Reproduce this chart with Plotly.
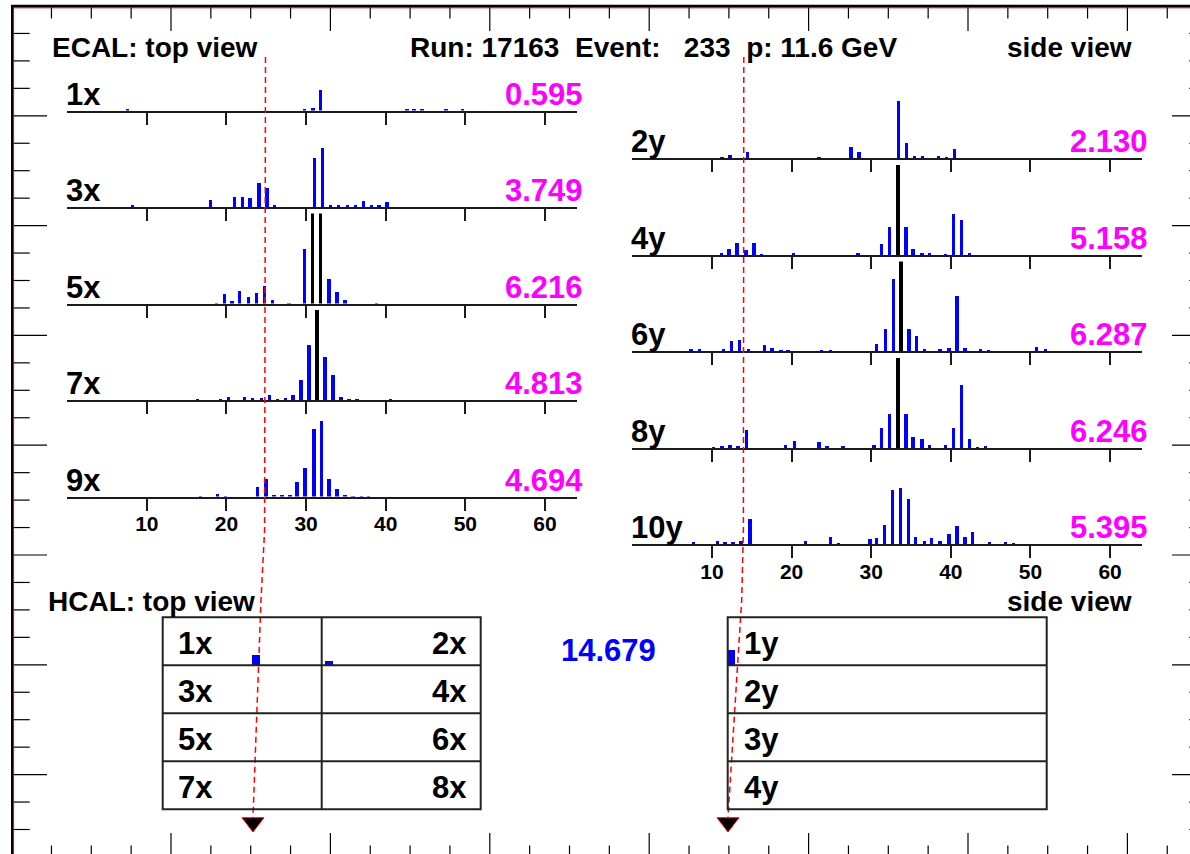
import plotly.graph_objects as go

W, H = 1190, 854
FONT = "Liberation Sans"

# ---------------- data ----------------
run_number, event_number, momentum_gev = 17163, 233, 11.6

ecal_x_labels = ["1x", "3x", "5x", "7x", "9x"]
ecal_y_labels = ["2y", "4y", "6y", "8y", "10y"]
ecal_x_energy = [0.595, 3.749, 6.216, 4.813, 4.694]
ecal_y_energy = [2.130, 5.158, 6.287, 6.246, 5.395]

ch_1x = [7.6, 29.8, 30.9, 31.8, 42.7, 43.6, 44.6, 47.6, 49.7]
e_1x = [0.015, 0.023, 0.038, 0.235, 0.012, 0.012, 0.012, 0.012, 0.015]
ch_3x = [8.2, 18.0, 21.0, 22.0, 23.0, 24.1, 25.1, 26.1, 31.1, 32.1, 33.1, 34.1, 35.2, 36.2, 37.2, 38.2, 39.2, 40.2]
e_3x = [0.023, 0.076, 0.106, 0.106, 0.095, 0.265, 0.208, 0.023, 0.542, 0.652, 0.019, 0.019, 0.019, 0.023, 0.064, 0.015, 0.015, 0.061]
ch_5x = [18.8, 19.8, 20.7, 21.7, 22.8, 23.8, 24.8, 25.8, 27.9, 29.8, 30.8, 31.8, 32.9, 33.9, 34.9, 38.9]
e_5x = [0.011, 0.106, 0.038, 0.144, 0.083, 0.121, 0.197, 0.045, 0.011, 0.606, 1.3, 1.3, 0.277, 0.133, 0.045, 0.008]
ch_7x = [16.4, 19.3, 20.3, 22.3, 23.3, 24.4, 25.4, 26.4, 27.4, 28.4, 29.4, 30.4, 31.4, 32.4, 33.4, 34.4, 35.4, 36.4, 40.6]
e_7x = [0.008, 0.011, 0.038, 0.038, 0.019, 0.027, 0.053, 0.008, 0.019, 0.061, 0.227, 0.606, 1.3, 0.48, 0.273, 0.038, 0.006, 0.006, 0.006]
ch_9x = [16.8, 18.9, 19.9, 23.9, 25.0, 26.0, 27.0, 28.0, 28.9, 29.9, 31.0, 32.0, 32.9, 33.9, 34.9, 35.9, 37.0, 37.9]
e_9x = [0.011, 0.030, 0.006, 0.114, 0.197, 0.019, 0.023, 0.023, 0.163, 0.322, 0.754, 0.848, 0.2, 0.087, 0.019, 0.008, 0.011, 0.008]

ch_2y = [11.3, 12.3, 14.5, 23.5, 27.5, 28.5, 33.5, 34.5, 35.5, 36.5, 38.5, 39.5, 40.5]
e_2y = [0.008, 0.030, 0.068, 0.006, 0.125, 0.068, 0.629, 0.163, 0.019, 0.015, 0.019, 0.008, 0.102]
ch_4y = [11.2, 12.2, 13.2, 14.3, 15.3, 16.3, 20.3, 28.4, 31.3, 32.3, 33.4, 34.4, 35.3, 36.4, 37.4, 39.4, 40.4, 41.4, 42.4]
e_4y = [0.015, 0.068, 0.133, 0.053, 0.133, 0.008, 0.015, 0.015, 0.121, 0.31, 1.3, 0.31, 0.068, 0.015, 0.015, 0.011, 0.455, 0.386, 0.015]
ch_6y = [7.4, 8.5, 11.5, 12.5, 13.5, 14.6, 16.6, 17.6, 18.7, 19.6, 23.8, 24.9, 30.7, 31.8, 32.8, 33.8, 34.8, 35.7, 36.7, 38.7, 39.8, 40.8, 41.8, 43.8, 44.8, 50.8, 51.9]
e_6y = [0.015, 0.023, 0.019, 0.106, 0.117, 0.023, 0.068, 0.038, 0.008, 0.008, 0.006, 0.006, 0.083, 0.239, 0.795, 1.3, 0.25, 0.17, 0.015, 0.019, 0.03, 0.606, 0.03, 0.019, 0.008, 0.049, 0.023]
ch_8y = [10.2, 11.3, 12.3, 13.3, 14.4, 19.3, 20.4, 23.5, 24.5, 26.5, 30.4, 31.3, 32.3, 33.4, 34.4, 35.3, 36.4, 37.4, 39.4, 40.4, 41.4, 42.4, 43.4, 44.4]
e_8y = [0.006, 0.015, 0.03, 0.027, 0.197, 0.03, 0.083, 0.068, 0.019, 0.019, 0.03, 0.227, 0.379, 1.3, 0.379, 0.121, 0.095, 0.03, 0.03, 0.227, 0.70, 0.102, 0.006, 0.023]
ch_10y = [7.7, 10.7, 11.7, 12.7, 13.7, 14.8, 21.8, 24.9, 25.9, 29.9, 30.7, 31.7, 32.7, 33.7, 34.7, 35.6, 36.7, 37.6, 38.7, 39.8, 40.8, 41.8, 42.8, 44.9, 46.9, 47.9]
e_10y = [0.015, 0.038, 0.019, 0.015, 0.038, 0.273, 0.038, 0.076, 0.006, 0.053, 0.068, 0.212, 0.598, 0.617, 0.5, 0.083, 0.03, 0.068, 0.038, 0.114, 0.197, 0.076, 0.133, 0.023, 0.019, 0.008]

ecal_x_channels = [ch_1x, ch_3x, ch_5x, ch_7x, ch_9x]
ecal_x_values = [e_1x, e_3x, e_5x, e_7x, e_9x]
ecal_y_channels = [ch_2y, ch_4y, ch_6y, ch_8y, ch_10y]
ecal_y_values = [e_2y, e_4y, e_6y, e_8y, e_10y]
SATURATION = 1.0
ecal_ticks = [10, 20, 30, 40, 50, 60]

hcal_top_labels = [["1x", "2x"], ["3x", "4x"], ["5x", "6x"], ["7x", "8x"]]
hcal_side_labels = ["1y", "2y", "3y", "4y"]
hcal_top_pos = [0.587, 1.046]
hcal_top_e = [0.207, 0.083]
hcal_side_pos = [0.008]
hcal_side_e = [0.31]
hcal_total = 14.679

# track projection polylines (canvas pixels)
track_top_x = [265.5, 264.6, 261.0, 253.0]
track_side_x = [743.8, 743.4, 741.7, 728.0]
track_y = [57, 530, 600, 817]
track_arrow_y = [822.5]

# ---------------- layout geometry (pixels) ----------------
L_X0, L_X1 = 67.2, 576.8
R_X0, R_X1 = 632.3, 1141.9
L_BASE0, R_BASE0, PITCH = 110.5, 158.4, 96.5
PANEL_H = 90


def fx(px):
    return px / W


def fy(py):
    return 1 - py / H


fig = go.Figure()
layout = dict(
    width=W, height=H, margin=dict(l=0, r=0, t=0, b=0), autosize=False,
    paper_bgcolor="white", plot_bgcolor="rgba(0,0,0,0)", showlegend=False,
    bargap=0,
)
annotations = []
shapes = []

CAN = 11  # canvas overlay axis index


def ann(x, y, text, size, color="black", xanchor="left"):
    annotations.append(dict(
        x=x, y=y, xref=f"x{CAN}", yref=f"y{CAN}", text=f"<b>{text}</b>", showarrow=False,
        xanchor=xanchor, yanchor="middle",
        font=dict(family=FONT, size=size, color=color)))


n = 0
for side in range(2):
    chans = ecal_x_channels if side == 0 else ecal_y_channels
    vals = ecal_x_values if side == 0 else ecal_y_values
    labels = ecal_x_labels if side == 0 else ecal_y_labels
    energies = ecal_x_energy if side == 0 else ecal_y_energy
    x0, x1 = (L_X0, L_X1) if side == 0 else (R_X0, R_X1)
    base0 = L_BASE0 if side == 0 else R_BASE0
    for i in range(5):
        n += 1
        base = base0 + PITCH * i
        colors = ["black" if v >= SATURATION else "blue" for v in vals[i]]
        fig.add_trace(go.Bar(
            x=chans[i], y=vals[i], width=0.42, marker=dict(color=colors, line=dict(width=0)),
            xaxis=f"x{n}", yaxis=f"y{n}", hoverinfo="skip"))
        layout[f"xaxis{n}"] = dict(
            domain=[fx(x0), fx(x1)], range=[0, 64], anchor=f"y{n}",
            showline=True, linecolor="#1a1a1a", linewidth=2,
            ticks="outside", ticklen=12, tickwidth=2, tickcolor="#1a1a1a",
            tickvals=ecal_ticks, ticktext=[f"<b>{t}</b>" for t in ecal_ticks],
            showticklabels=(i == 4), ticklabelstandoff=-5,
            tickfont=dict(family=FONT, size=21, color="black"),
            showgrid=False, zeroline=False, fixedrange=True)
        layout[f"yaxis{n}"] = dict(
            domain=[fy(base), fy(base - PANEL_H)], range=[0, SATURATION], anchor=f"x{n}",
            visible=False, fixedrange=True)
        ann(x0 - 3.5, base - 16.5, labels[i], 31)
        ann(x1 + 8.0, base - 16.5, f"{energies[i]:.3f}", 31, color="#ff00ff", xanchor="right")

# canvas overlay axis (pixel coordinates)
layout[f"xaxis{CAN}"] = dict(domain=[0, 1], range=[0, W], visible=False, fixedrange=True, anchor=f"y{CAN}")
layout[f"yaxis{CAN}"] = dict(domain=[0, 1], range=[H, 0], visible=False, fixedrange=True, anchor=f"x{CAN}")

# HCAL tables
HT_X0, HT_X1, HS_X0, HS_X1 = 162.7, 480.7, 727.7, 1046.7
HT_Y0, HT_ROW = 617.3, 48.0
fig.add_trace(go.Bar(x=hcal_top_pos, y=hcal_top_e, width=0.05, marker=dict(color="blue", line=dict(width=0)),
                     xaxis="x12", yaxis="y12", hoverinfo="skip"))
layout["xaxis12"] = dict(domain=[fx(HT_X0), fx(HT_X1)], range=[0, 2], visible=False, anchor="y12", fixedrange=True)
layout["yaxis12"] = dict(domain=[fy(HT_Y0 + HT_ROW), fy(HT_Y0)], range=[0, 1], visible=False, anchor="x12", fixedrange=True)
fig.add_trace(go.Bar(x=hcal_side_pos, y=hcal_side_e, width=0.027, marker=dict(color="blue", line=dict(width=0)),
                     xaxis="x13", yaxis="y13", hoverinfo="skip"))
layout["xaxis13"] = dict(domain=[fx(HS_X0), fx(HS_X1)], range=[0, 1], visible=False, anchor="y13", fixedrange=True)
layout["yaxis13"] = dict(domain=[fy(HT_Y0 + HT_ROW), fy(HT_Y0)], range=[0, 1], visible=False, anchor="x13", fixedrange=True)


def seg(xa, ya, xb, yb, color="black", width=1.2, dash=None):
    ln = dict(color=color, width=width)
    if dash:
        ln["dash"] = dash
    shapes.append(dict(type="line", xref=f"x{CAN}", yref=f"y{CAN}", x0=xa, y0=ya, x1=xb, y1=yb, line=ln))


for (a, b) in [(HT_X0, HT_X1), (HS_X0, HS_X1)]:
    shapes.append(dict(type="rect", xref=f"x{CAN}", yref=f"y{CAN}", x0=a, x1=b, y0=HT_Y0, y1=HT_Y0 + 4 * HT_ROW,
                       line=dict(color="#222", width=2)))
    for r in range(1, 4):
        seg(a, HT_Y0 + r * HT_ROW, b, HT_Y0 + r * HT_ROW, color="#222", width=2)
seg((HT_X0 + HT_X1) / 2, HT_Y0, (HT_X0 + HT_X1) / 2, HT_Y0 + 4 * HT_ROW, color="#222", width=2)

for r in range(4):
    yc = HT_Y0 + (r + 0.5) * HT_ROW + 2
    ann(HT_X0 + 13, yc, hcal_top_labels[r][0], 31)
    ann(HT_X1 - 12, yc, hcal_top_labels[r][1], 31, xanchor="right")
    ann(HS_X0 + 14, yc, hcal_side_labels[r], 31)

ann(608.5, 650, f"{hcal_total:.3f}", 31, color="blue", xanchor="center")

# headers
ann(50, 47, "ECAL: top view", 28)
ann(408, 47, f"Run: {run_number}\u00a0\u00a0Event:\u00a0\u00a0\u00a0{event_number}\u00a0\u00a0p: {momentum_gev} GeV", 28)
ann(1134, 47, "side view", 28, xanchor="right")
ann(46, 601, "HCAL: top view", 28)
ann(1134, 601, "side view", 28, xanchor="right")

# track projections
for tx in (track_top_x, track_side_x):
    fig.add_trace(go.Scatter(x=tx, y=track_y, mode="lines", line=dict(color="red", width=1.5, dash="6px,4px"),
                             xaxis=f"x{CAN}", yaxis=f"y{CAN}", hoverinfo="skip"))
    fig.add_trace(go.Scatter(x=[tx[-1]], y=track_arrow_y, mode="markers",
                             marker=dict(symbol="triangle-down", size=19, color="black", line=dict(color="red", width=1)),
                             xaxis=f"x{CAN}", yaxis=f"y{CAN}", hoverinfo="skip"))

# outer frame with ROOT-style ticks
FR_L, FR_T, FR_R, FR_B = 12.0, 6.0, 1207.0, 858.0
XT0, XMAJ = 11.6, 159.4
YT0, YMAJ = 6.0, 109.8
for j in range(1, 31):
    xx = XT0 + j * XMAJ / 4
    if xx > W:
        break
    ln = 25 if j % 4 == 0 else 12.5
    seg(xx, FR_T, xx, FR_T + ln)
    seg(xx, FR_B, xx, FR_B - ln)
for j in range(1, 32):
    yy = YT0 + j * YMAJ / 4
    if yy > H:
        break
    ln = 35 if j % 4 == 0 else 17.7
    seg(FR_L, yy, FR_L + ln, yy)
    seg(FR_R, yy, FR_R - ln, yy)
seg(FR_L + 1.6, FR_T, FR_L + 1.6, H, color="#d00000", width=1)
seg(FR_L, FR_T + 1.8, W, FR_T + 1.8, color="#d00000", width=1)
seg(FR_L, FR_T - 1, FR_L, H, color="black", width=2)
seg(FR_L - 1, FR_T, W, FR_T, color="black", width=2.5)

layout["annotations"] = annotations
layout["shapes"] = shapes
fig.update_layout(**layout)
fig.write_html("out.html")
